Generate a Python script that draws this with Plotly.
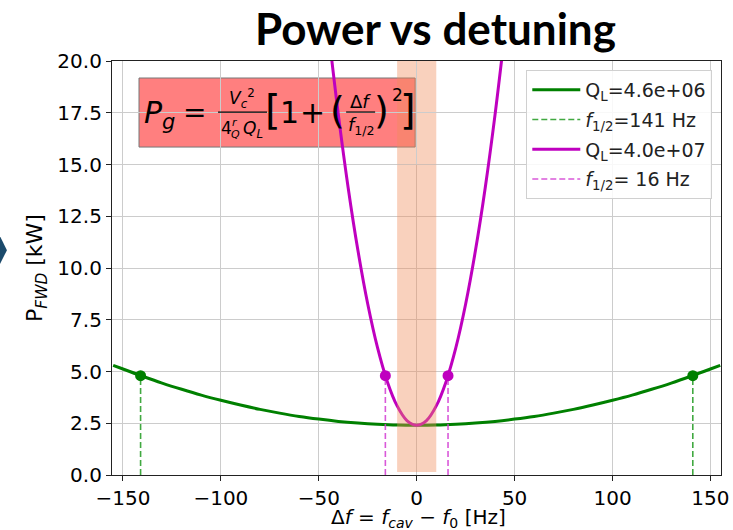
import plotly.graph_objects as go

# ---------------- data ----------------
freq_green = [-155, -150, -140, -130, -120, -110, -100, -90, -80, -70, -60, -50, -40, -30, -20, -10,
              0, 10, 20, 30, 40, 50, 60, 70, 80, 90, 100, 110, 120, 130, 140, 150, 155]
p_green = [5.30, 5.12, 4.77, 4.44, 4.14, 3.86, 3.61, 3.38, 3.17, 2.99, 2.83, 2.70, 2.59, 2.51, 2.45, 2.41,
           2.40, 2.41, 2.45, 2.51, 2.59, 2.70, 2.83, 2.99, 3.17, 3.38, 3.61, 3.86, 4.14, 4.44, 4.77, 5.12, 5.30]
freq_mag = [-45, -40, -35, -30, -25, -20, -15, -10, -5, 0, 5, 10, 15, 20, 25, 30, 35, 40, 45]
p_mag = [21.38, 17.40, 13.88, 10.84, 8.26, 6.15, 4.51, 3.34, 2.63, 2.40, 2.63, 3.34, 4.51, 6.15, 8.26,
         10.84, 13.88, 17.40, 21.38]
f_half_green = 141
f_half_mag = 16
p_half = 4.8
band_lo, band_hi = -10, 10
band_bottom, band_split, band_top = 0.15, 15.0, 20.0
x_range = [-155.6, 155.4]
y_range = [0, 20]
y_ticks = [0, 2.5, 5, 7.5, 10, 12.5, 15, 17.5, 20]
x_ticks = [-150, -100, -50, 0, 50, 100, 150]
labels = ["Q<sub>L</sub>=4.6e+06", "<i>f</i><sub>1/2</sub>=141 Hz",
          "Q<sub>L</sub>=4.0e+07", "<i>f</i><sub>1/2</sub>= 16 Hz"]
x_title = "Δ<i>f</i> = <i>f</i><sub><i>cav</i></sub> − <i>f</i><sub>0</sub> [Hz]"
y_title = "P<sub><i>FWD</i></sub> [kW]"

# ---------------- layout helpers ----------------
WIDTH, HEIGHT = 733, 530
L, R, T, B = 112, 720.7, 61, 474.7
PW, PH = R - L, B - T


def px(x):
    return (x - L) / PW


def py(y):
    return (B - y) / PH


GREEN = "#008000"
GREEN_D = "rgba(44,160,44,0.9)"
MAG = "#bf00bf"
MAG_D = "rgba(210,60,210,0.85)"
BAND = "rgba(240,140,90,0.4)"
FONT = "DejaVu Sans"

fig = go.Figure()

fig.add_trace(go.Scatter(x=freq_green, y=p_green, mode="lines", line=dict(color=GREEN, width=3, shape="spline"),
                         name=labels[0], legendgroup="a", hoverinfo="skip"))
fig.add_trace(go.Scatter(x=[-f_half_green, -f_half_green, None, f_half_green, f_half_green],
                         y=[0, p_half, None, 0, p_half], mode="lines",
                         line=dict(color=GREEN_D, width=1.6, dash="6px,3px"), name=labels[1], legendgroup="b"))
fig.add_trace(go.Scatter(x=[-f_half_green, f_half_green], y=[p_half, p_half], mode="markers",
                         marker=dict(color=GREEN, size=11), showlegend=False))
fig.add_trace(go.Scatter(x=freq_mag, y=p_mag, mode="lines", line=dict(color=MAG, width=3, shape="spline"),
                         name=labels[2], legendgroup="c"))
fig.add_trace(go.Scatter(x=[-f_half_mag, -f_half_mag, None, f_half_mag, f_half_mag],
                         y=[0, p_half, None, 0, p_half], mode="lines",
                         line=dict(color=MAG_D, width=1.6, dash="6px,3px"), name=labels[3], legendgroup="d"))
fig.add_trace(go.Scatter(x=[-f_half_mag, f_half_mag], y=[p_half, p_half], mode="markers",
                         marker=dict(color=MAG, size=11), showlegend=False))
# lower part of the band, drawn over the curves
fig.add_trace(go.Scatter(x=[band_lo, band_hi, band_hi, band_lo, band_lo],
                         y=[band_bottom, band_bottom, band_split, band_split, band_bottom],
                         mode="lines", fill="toself", fillcolor=BAND, line=dict(width=0),
                         showlegend=False, hoverinfo="skip"))

shapes = [
    # upper part of band (under formula box)
    dict(type="rect", xref="x", yref="y", x0=band_lo, x1=band_hi, y0=band_split, y1=band_top,
         fillcolor=BAND, line=dict(width=0), layer="below"),
    # formula box
    dict(type="rect", xref="paper", yref="paper", x0=px(139), x1=px(415), y0=py(147), y1=py(78),
         fillcolor="rgba(255,0,0,0.5)", line=dict(color="#777777", width=1), layer="below"),
    # fraction bars
    dict(type="line", xref="paper", yref="paper", x0=px(218), x1=px(267), y0=py(112), y1=py(112),
         line=dict(color="black", width=1.2)),
    dict(type="line", xref="paper", yref="paper", x0=px(346), x1=px(375), y0=py(112), y1=py(112),
         line=dict(color="black", width=1.2)),
    # left decoration (chevron)
    dict(type="path", xref="paper", yref="paper",
         path=f"M {px(-5)} {py(226)} L {px(7)} {py(250)} L {px(-5)} {py(274)} Z",
         fillcolor="#1b4a6b", line=dict(width=0)),
]


def ann(text, x, y, size):
    return dict(text=text, xref="paper", yref="paper", x=px(x), y=py(y), showarrow=False,
                xanchor="center", yanchor="middle",
                font=dict(family=FONT, size=size, color="black"))


annotations = [
    dict(text="<b>Power vs detuning</b>", xref="paper", yref="paper", x=px(435.5), y=py(28), showarrow=False,
         xanchor="center", yanchor="middle", font=dict(family="Lato", size=44, color="black")),
    ann(x_title, 418, 518, 20),
    ann("<i>P</i><sub><i>g</i></sub>", 159, 114, 30),
    ann("=", 194, 112, 28),
    ann("<i>V</i><sub><i>c</i></sub><sup>2</sup>", 242, 98, 17),
    ann("4", 226, 128, 17),
    ann("<i>r</i>", 235, 122, 11),
    ann("<i>Q</i>", 235, 134, 11),
    ann("<i>Q</i><sub><i>L</i></sub>", 253, 129, 17),
    ann("[", 273, 110, 40),
    ann("1", 289, 112, 30),
    ann("+", 312, 112, 30),
    ann("(", 337, 110, 38),
    ann("Δ<i>f</i>", 360, 101, 18),
    ann("<i>f</i><sub>1/2</sub>", 361, 126, 18),
    ann(")", 381, 110, 38),
    ann("2", 397, 95, 17),
    ann("]", 408, 110, 40),
]

fig.update_layout(
    width=WIDTH, height=HEIGHT, autosize=False,
    margin=dict(l=L, r=WIDTH - R, t=T, b=HEIGHT - B, pad=0),
    paper_bgcolor="white", plot_bgcolor="white",
    font=dict(family=FONT, size=18, color="black"),
    shapes=shapes, annotations=annotations,
    legend=dict(x=px(712), y=py(70), xanchor="right", yanchor="top",
                bgcolor="rgba(255,255,255,0.85)", bordercolor="#d0d0d0", borderwidth=1,
                font=dict(family=FONT, size=19, color="#222"), tracegroupgap=2,
                itemwidth=48),
    showlegend=True,
)
fig.update_xaxes(range=x_range, tickvals=x_ticks, showgrid=True, gridcolor="#cccccc", gridwidth=1,
                 automargin=False,
                 zeroline=False, showline=True, linecolor="#222", linewidth=1.2, mirror=True,
                 ticks="outside", ticklen=5, tickcolor="#222", tickfont=dict(family=FONT, size=20))
fig.update_yaxes(range=y_range, tickvals=y_ticks, tickformat=".1f", showgrid=True, gridcolor="#cccccc",
                 automargin=False,
                 gridwidth=1, zeroline=False, showline=True, linecolor="#222", linewidth=1.2, mirror=True,
                 ticks="outside", ticklen=5, tickcolor="#222", tickfont=dict(family=FONT, size=20),
                 title=dict(text=y_title, font=dict(family=FONT, size=22), standoff=8))

fig.write_html("out.html")
